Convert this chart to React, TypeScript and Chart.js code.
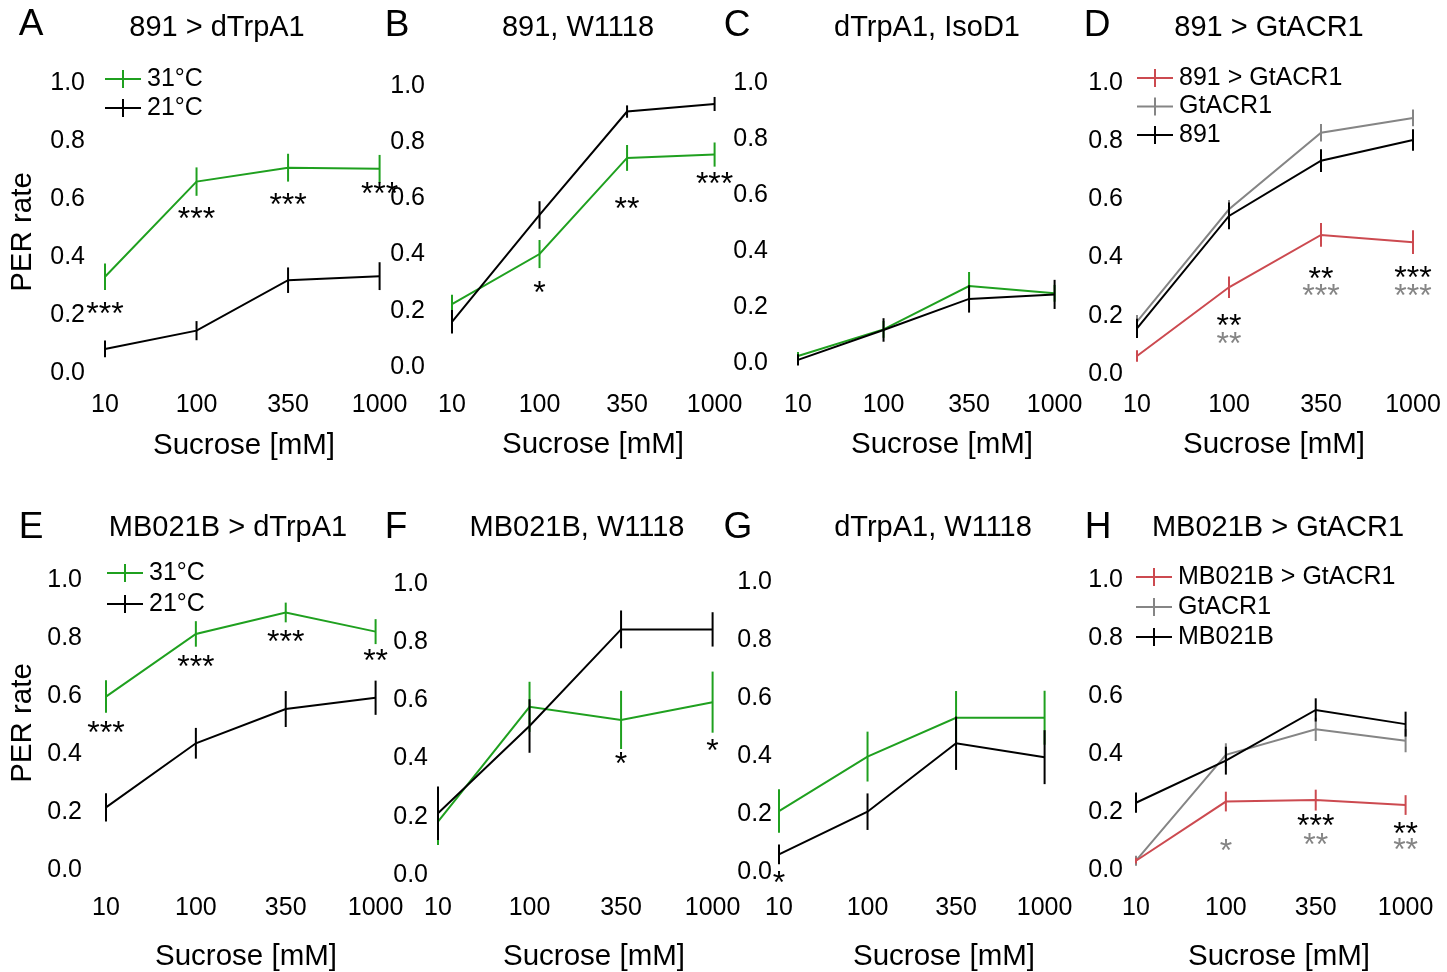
import React, { useEffect, useRef } from "react";
import { Chart, registerables } from "chart.js";

Chart.register(...registerables);

const FONT = '"Liberation Sans", Arial, Helvetica, sans-serif';
const GREEN = "#1fa01f";
const RED = "#cc4a50";
const GRAY = "#858585";
const BLACK = "#000000";

// ---------- shared axis content ----------
const sucrose = ["10", "100", "350", "1000"];
const yMin = 0;
const yMax = 1;
const yTickStep = 0.2;
const xAxisTitle = "Sucrose [mM]";
const yAxisTitle = "PER rate";

// ---------- Panel A: 891 > dTrpA1 ----------
const a31Mean = [0.332, 0.66, 0.708, 0.704];
const a31Err = [0.046, 0.049, 0.048, 0.048];
const a21Mean = [0.083, 0.146, 0.32, 0.334];
const a21Err = [0.029, 0.033, 0.044, 0.048];
const aStars = ["***", "***", "***", "***"];
const aStarsY = [0.224, 0.552, 0.6, 0.638];

// ---------- Panel B: 891, W1118 ----------
const b31Mean = [0.224, 0.402, 0.744, 0.756];
const b31Err = [0.033, 0.05, 0.046, 0.043];
const b21Mean = [0.161, 0.541, 0.909, 0.936];
const b21Err = [0.042, 0.049, 0.022, 0.025];
const bStars = ["", "*", "**", "***"];
const bStarsY = [null, 0.285, 0.584, 0.673];

// ---------- Panel C: dTrpA1, IsoD1 ----------
const c31Mean = [0.025, 0.12, 0.275, 0.249];
const c31Err = [0.014, 0.03, 0.05, 0.03];
const c21Mean = [0.011, 0.118, 0.229, 0.245];
const c21Err = [0.02, 0.042, 0.049, 0.052];

// ---------- Panel D: 891 > GtACR1 ----------
const dExpMean = [0.062, 0.298, 0.478, 0.453];
const dExpErr = [0.02, 0.037, 0.041, 0.041];
const dGtMean = [0.18, 0.566, 0.829, 0.88];
const dGtErr = [0.023, 0.032, 0.03, 0.029];
const dGalMean = [0.157, 0.543, 0.733, 0.804];
const dGalErr = [0.033, 0.046, 0.039, 0.037];
const dStarsVsGal = ["", "**", "**", "***"];
const dStarsVsGalY = [null, 0.186, 0.347, 0.351];
const dStarsVsGt = ["", "**", "***", "***"];
const dStarsVsGtY = [null, 0.124, 0.289, 0.289];

// ---------- Panel E: MB021B > dTrpA1 ----------
const e31Mean = [0.598, 0.814, 0.888, 0.822];
const e31Err = [0.056, 0.044, 0.034, 0.043];
const e21Mean = [0.216, 0.437, 0.555, 0.594];
const e21Err = [0.049, 0.053, 0.062, 0.059];
const eStars = ["***", "***", "***", "**"];
const eStarsY = [0.493, 0.721, 0.807, 0.741];

// ---------- Panel F: MB021B, W1118 ----------
const f31Mean = [0.183, 0.578, 0.533, 0.594];
const f31Err = [0.08, 0.086, 0.1, 0.105];
const f21Mean = [0.212, 0.512, 0.844, 0.844];
const f21Err = [0.092, 0.092, 0.065, 0.059];
const fStars = ["", "", "*", "*"];
const fStarsY = [null, null, 0.402, 0.447];

// ---------- Panel G: dTrpA1, W1118 ----------
const g31Mean = [0.21, 0.398, 0.532, 0.532];
const g31Err = [0.075, 0.086, 0.092, 0.093];
const g21Mean = [0.061, 0.208, 0.444, 0.396];
const g21Err = [0.034, 0.063, 0.092, 0.093];
const gStars = ["*", "", "", ""];
const gStarsY = [-0.017, null, null, null];

// ---------- Panel H: MB021B > GtACR1 ----------
const hExpMean = [0.032, 0.236, 0.241, 0.224];
const hExpErr = [0.01, 0.034, 0.036, 0.034];
const hGtMean = [0.032, 0.397, 0.485, 0.446];
const hGtErr = [0.017, 0.04, 0.04, 0.04];
const hGalMean = [0.232, 0.377, 0.552, 0.503];
const hGalErr = [0.035, 0.048, 0.04, 0.043];
const hStarsVsGal = ["", "", "***", "**"];
const hStarsVsGalY = [null, null, 0.172, 0.145];
const hStarsVsGt = ["", "*", "**", "**"];
const hStarsVsGtY = [null, 0.086, 0.107, 0.09];

type Series = { label: string; color: string; mean: number[]; err: number[]; order: number };
type StarRow = { color: string; text: string[]; y: (number | null)[] };
type Panel = {
  letter: string;
  title: string;
  series: Series[];
  stars: StarRow[];
  legend?: { x: number; y: number; gap: number };
  plot: { left: number; right: number; y0: number; y1: number };
  rowTop: number;
  yPad: number;
  xPad: number;
  letterPos: [number, number];
  titlePos: [number, number];
  xLabelPos: [number, number];
  yLabelPos?: [number, number];
};

const panels: Panel[] = [
  {
    letter: "A", title: "891 > dTrpA1",
    series: [
      { label: "31°C", color: GREEN, mean: a31Mean, err: a31Err, order: 1 },
      { label: "21°C", color: BLACK, mean: a21Mean, err: a21Err, order: 0 },
    ],
    stars: [{ color: BLACK, text: aStars, y: aStarsY }],
    legend: { x: 105, y: 79, gap: 29 },
    plot: { left: 105, right: 380, y0: 373, y1: 83 }, rowTop: 0, yPad: 20, xPad: 17.6,
    letterPos: [31, 25], titlePos: [217, 28], xLabelPos: [244, 446], yLabelPos: [23, 232],
  },
  {
    letter: "B", title: "891, W1118",
    series: [
      { label: "31°C", color: GREEN, mean: b31Mean, err: b31Err, order: 1 },
      { label: "21°C", color: BLACK, mean: b21Mean, err: b21Err, order: 0 },
    ],
    stars: [{ color: BLACK, text: bStars, y: bStarsY }],
    plot: { left: 452, right: 721, y0: 367, y1: 86 }, rowTop: 0, yPad: 27, xPad: 23.6,
    letterPos: [397, 26], titlePos: [578, 28], xLabelPos: [593, 445],
  },
  {
    letter: "C", title: "dTrpA1, IsoD1",
    series: [
      { label: "31°C", color: GREEN, mean: c31Mean, err: c31Err, order: 1 },
      { label: "21°C", color: BLACK, mean: c21Mean, err: c21Err, order: 0 },
    ],
    stars: [],
    plot: { left: 798, right: 1065, y0: 363, y1: 83 }, rowTop: 0, yPad: 30, xPad: 27.6,
    letterPos: [737, 26], titlePos: [927, 28], xLabelPos: [942, 445],
  },
  {
    letter: "D", title: "891 > GtACR1",
    series: [
      { label: "891 > GtACR1", color: RED, mean: dExpMean, err: dExpErr, order: 0 },
      { label: "GtACR1", color: GRAY, mean: dGtMean, err: dGtErr, order: 2 },
      { label: "891", color: BLACK, mean: dGalMean, err: dGalErr, order: 1 },
    ],
    stars: [
      { color: BLACK, text: dStarsVsGal, y: dStarsVsGalY },
      { color: GRAY, text: dStarsVsGt, y: dStarsVsGtY },
    ],
    legend: { x: 1137, y: 78, gap: 28.5 },
    plot: { left: 1137, right: 1413, y0: 374, y1: 83 }, rowTop: 0, yPad: 14, xPad: 16.6,
    letterPos: [1097, 26], titlePos: [1269, 28], xLabelPos: [1274, 445],
  },
  {
    letter: "E", title: "MB021B > dTrpA1",
    series: [
      { label: "31°C", color: GREEN, mean: e31Mean, err: e31Err, order: 1 },
      { label: "21°C", color: BLACK, mean: e21Mean, err: e21Err, order: 0 },
    ],
    stars: [{ color: BLACK, text: eStars, y: eStarsY }],
    legend: { x: 107, y: 573, gap: 31 },
    plot: { left: 106, right: 382, y0: 870, y1: 580 }, rowTop: 486, yPad: 24, xPad: 23.6,
    letterPos: [31, 528], titlePos: [228, 528], xLabelPos: [246, 957], yLabelPos: [23, 723],
  },
  {
    letter: "F", title: "MB021B, W1118",
    series: [
      { label: "31°C", color: GREEN, mean: f31Mean, err: f31Err, order: 1 },
      { label: "21°C", color: BLACK, mean: f21Mean, err: f21Err, order: 0 },
    ],
    stars: [{ color: BLACK, text: fStars, y: fStarsY }],
    plot: { left: 438, right: 714, y0: 875, y1: 584 }, rowTop: 486, yPad: 10, xPad: 18.6,
    letterPos: [396, 528], titlePos: [577, 528], xLabelPos: [594, 957],
  },
  {
    letter: "G", title: "dTrpA1, W1118",
    series: [
      { label: "31°C", color: GREEN, mean: g31Mean, err: g31Err, order: 1 },
      { label: "21°C", color: BLACK, mean: g21Mean, err: g21Err, order: 0 },
    ],
    stars: [{ color: BLACK, text: gStars, y: gStarsY }],
    plot: { left: 779, right: 1049, y0: 872, y1: 582 }, rowTop: 486, yPad: 7, xPad: 21.6,
    letterPos: [738, 528], titlePos: [933, 528], xLabelPos: [944, 957],
  },
  {
    letter: "H", title: "MB021B > GtACR1",
    series: [
      { label: "MB021B > GtACR1", color: RED, mean: hExpMean, err: hExpErr, order: 0 },
      { label: "GtACR1", color: GRAY, mean: hGtMean, err: hGtErr, order: 2 },
      { label: "MB021B", color: BLACK, mean: hGalMean, err: hGalErr, order: 1 },
    ],
    stars: [
      { color: BLACK, text: hStarsVsGal, y: hStarsVsGalY },
      { color: GRAY, text: hStarsVsGt, y: hStarsVsGtY },
    ],
    legend: { x: 1136, y: 577, gap: 30 },
    plot: { left: 1136, right: 1412, y0: 870, y1: 580 }, rowTop: 486, yPad: 13, xPad: 23.6,
    letterPos: [1098, 528], titlePos: [1278, 528], xLabelPos: [1279, 957],
  },
];

const ROW_H = 486;
const LEFT_ROOM = 105;
const RIGHT_ROOM = 45;
const Y_LABEL_ROOM = 50; // room for the y tick text inside the axis box
const X_LABEL_ROOM = 34; // room for the x tick text inside the axis box
const TICK_SIZE = 25;
const TITLE_SIZE = 29;
const AXIS_TITLE_SIZE = 29.5;
const LETTER_SIZE = 37;
const LEGEND_SIZE = 25;
const STAR_SIZE = 32;

function PanelChart({ p }: { p: Panel }) {
  const ref = useRef<HTMLCanvasElement | null>(null);
  const boxLeft = p.plot.left - LEFT_ROOM;
  const boxTop = p.rowTop;
  const boxW = p.plot.right - p.plot.left + LEFT_ROOM + RIGHT_ROOM;
  const boxH = ROW_H;
  const yAxisW = p.yPad + Y_LABEL_ROOM;
  const xAxisH = p.xPad + X_LABEL_ROOM;

  useEffect(() => {
    const canvas = ref.current;
    if (!canvas) return;
    const toX = (x: number) => x - boxLeft;
    const toY = (y: number) => y - boxTop;

    const decor = {
      id: "decor" + p.letter,
      afterDatasetDraw(chart: any, args: any) {
        const ds = chart.data.datasets[args.index];
        const ys = chart.scales.y;
        const ctx = chart.ctx;
        ctx.save();
        ctx.strokeStyle = ds.borderColor;
        ctx.lineWidth = 2;
        args.meta.data.forEach((pt: any, i: number) => {
          const v = ds.data[i];
          const e = ds.errors[i];
          ctx.beginPath();
          ctx.moveTo(pt.x, ys.getPixelForValue(v - e));
          ctx.lineTo(pt.x, ys.getPixelForValue(v + e));
          ctx.stroke();
        });
        ctx.restore();
      },
      afterDraw(chart: any) {
        const ctx = chart.ctx;
        const xs = chart.scales.x;
        const ys = chart.scales.y;
        ctx.save();
        ctx.fillStyle = BLACK;
        ctx.textBaseline = "middle";
        ctx.textAlign = "center";
        // panel letter
        ctx.font = `${LETTER_SIZE}px ${FONT}`;
        ctx.fillText(p.letter, toX(p.letterPos[0]), toY(p.letterPos[1]));
        // title
        ctx.font = `${TITLE_SIZE}px ${FONT}`;
        ctx.fillText(p.title, toX(p.titlePos[0]), toY(p.titlePos[1]));
        // x axis title
        ctx.font = `${AXIS_TITLE_SIZE}px ${FONT}`;
        ctx.fillText(xAxisTitle, toX(p.xLabelPos[0]), toY(p.xLabelPos[1]));
        // y axis title
        if (p.yLabelPos) {
          ctx.save();
          ctx.translate(toX(p.yLabelPos[0]), toY(p.yLabelPos[1]));
          ctx.rotate(-Math.PI / 2);
          ctx.fillText(yAxisTitle, 0, 0);
          ctx.restore();
        }
        // significance stars
        ctx.font = `${STAR_SIZE}px ${FONT}`;
        p.stars.forEach((row) => {
          ctx.fillStyle = row.color;
          row.text.forEach((t, i) => {
            const v = row.y[i];
            if (!t || v === null) return;
            ctx.fillText(t, xs.getPixelForValue(i), ys.getPixelForValue(v) + 0.23 * STAR_SIZE);
          });
        });
        // legend
        if (p.legend) {
          ctx.font = `${LEGEND_SIZE}px ${FONT}`;
          ctx.textAlign = "left";
          ctx.lineWidth = 2;
          p.series.forEach((s, i) => {
            const lx = toX(p.legend!.x);
            const ly = toY(p.legend!.y + i * p.legend!.gap);
            ctx.strokeStyle = s.color;
            ctx.beginPath();
            ctx.moveTo(lx, ly);
            ctx.lineTo(lx + 36, ly);
            ctx.moveTo(lx + 18, ly - 9);
            ctx.lineTo(lx + 18, ly + 9);
            ctx.stroke();
            ctx.fillStyle = BLACK;
            ctx.fillText(s.label, lx + 42, ly);
          });
        }
        ctx.restore();
      },
    };

    const chart = new Chart(canvas, {
      type: "line",
      data: {
        labels: sucrose,
        datasets: p.series.map((s) => ({
          label: s.label,
          data: s.mean,
          errors: s.err,
          borderColor: s.color,
          backgroundColor: s.color,
          borderWidth: 2,
          pointRadius: 0,
          pointHoverRadius: 0,
          tension: 0,
          fill: false,
          clip: false,
          order: s.order,
        })) as any,
      },
      options: {
        responsive: false,
        animation: false,
        events: [],
        layout: {
          padding: {
            left: p.plot.left - boxLeft - yAxisW,
            right: boxLeft + boxW - p.plot.right,
            top: p.plot.y1 - boxTop,
            bottom: boxTop + boxH - p.plot.y0 - xAxisH,
          },
        },
        plugins: {
          legend: { display: false },
          tooltip: { enabled: false },
          title: { display: false },
        },
        scales: {
          x: {
            type: "category",
            offset: false,
            grid: { display: false, drawTicks: false },
            border: { display: false },
            ticks: {
              color: BLACK,
              font: { family: FONT, size: TICK_SIZE },
              padding: p.xPad,
              maxRotation: 0,
              minRotation: 0,
              autoSkip: false,
            },
            afterFit: (s: any) => {
              s.height = xAxisH;
            },
          },
          y: {
            type: "linear",
            min: yMin,
            max: yMax,
            grid: { display: false, drawTicks: false },
            border: { display: false },
            ticks: {
              stepSize: yTickStep,
              color: BLACK,
              font: { family: FONT, size: TICK_SIZE },
              padding: p.yPad,
              callback: (v: any) => Number(v).toFixed(1),
            },
            afterFit: (s: any) => {
              s.width = yAxisW;
            },
          },
        } as any,
      },
      plugins: [decor as any],
    });
    return () => chart.destroy();
  }, [p]);

  return (
    <canvas
      ref={ref}
      width={boxW}
      height={boxH}
      style={{ position: "absolute", left: boxLeft, top: boxTop, width: boxW, height: boxH }}
    />
  );
}

export default function App() {
  return (
    <div
      style={{
        position: "absolute",
        left: 0,
        top: 0,
        width: 1447,
        height: 972,
        background: "#ffffff",
        overflow: "hidden",
      }}
    >
      {panels.map((p) => (
        <PanelChart key={p.letter} p={p} />
      ))}
    </div>
  );
}
